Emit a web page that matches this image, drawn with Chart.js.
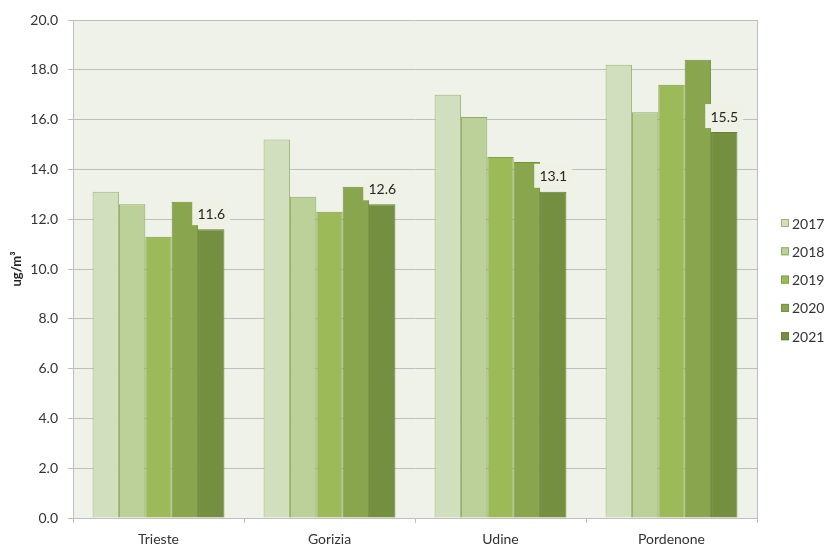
<!DOCTYPE html>
<html>
<head>
<meta charset="utf-8">
<script src="https://cdn.jsdelivr.net/npm/chart.js@4.4.1/dist/chart.umd.min.js"></script>
<style>
  html, body { margin: 0; padding: 0; background: #fff; }
  #wrap { width: 827px; height: 544px; position: relative; }
</style>
</head>
<body>
<div id="wrap"><canvas id="chart"></canvas></div>
<script>
// Stazioni e anni
const cities = ['Trieste', 'Gorizia', 'Udine', 'Pordenone'];
const years = ['2017', '2018', '2019', '2020', '2021'];

// Medie annue per anno (ug/m³)
const v2017 = [13.1, 15.2, 17.0, 18.2];
const v2018 = [12.6, 12.9, 16.1, 16.3];
const v2019 = [11.3, 12.3, 14.5, 17.4];
const v2020 = [12.7, 13.3, 14.3, 18.4];
const v2021 = [11.6, 12.6, 13.1, 15.5];

const yTicks = [0, 2, 4, 6, 8, 10, 12, 14, 16, 18, 20];

const fills = ['#d2dfbf', '#bcd09a', '#9cbb58', '#89a64e', '#748f3f'];
const borders = ['#9cb672', '#90ac62', '#82a047', '#75923c', '#66822f'];
const FONT = 'Lato, "Open Sans", sans-serif';

const series = [v2017, v2018, v2019, v2020, v2021];
const datasets = series.map((vals, i) => ({
  label: years[i],
  data: vals,
  backgroundColor: fills[i],
  borderColor: borders[i],
  borderWidth: 1,
  categoryPercentage: 0.771,
  barPercentage: 1.0
}));

// sfondo dell'area del grafico e bordo destro
const plotBg = {
  id: 'plotBg',
  beforeDraw(chart) {
    const { ctx, chartArea: a } = chart;
    ctx.save();
    ctx.fillStyle = '#eff2e9';
    ctx.fillRect(a.left, a.top, a.right - a.left, a.bottom - a.top);
    ctx.restore();
  },
  afterDatasetsDraw(chart) {
    const { ctx, chartArea: a } = chart;
    ctx.save();
    ctx.strokeStyle = '#bfbfbf';
    ctx.lineWidth = 1;
    ctx.beginPath();
    ctx.moveTo(a.right + 0.5, a.top);
    ctx.lineTo(a.right + 0.5, a.bottom);
    ctx.stroke();
    ctx.restore();
  }
};

// etichette valore sopra le barre del 2021
const lastLabels = {
  id: 'lastLabels',
  afterDatasetsDraw(chart) {
    const { ctx } = chart;
    const idx = years.length - 1;
    const meta = chart.getDatasetMeta(idx);
    ctx.save();
    ctx.font = '14px ' + FONT;
    ctx.textAlign = 'center';
    ctx.textBaseline = 'middle';
    meta.data.forEach((bar, j) => {
      const txt = series[idx][j].toFixed(1);
      const cy = bar.y - 16;
      ctx.fillStyle = '#eef1e3';
      ctx.fillRect(bar.x - 19, cy - 12, 38, 24);
      ctx.fillStyle = '#262626';
      ctx.fillText(txt, bar.x, cy + 1);
    });
    ctx.restore();
  }
};

// legenda a destra
const sideLegend = {
  id: 'sideLegend',
  afterDraw(chart) {
    const { ctx } = chart;
    ctx.save();
    ctx.font = '14px ' + FONT;
    ctx.textAlign = 'left';
    ctx.textBaseline = 'middle';
    years.forEach((y, i) => {
      const cy = 223 + i * 28.3;
      ctx.fillStyle = fills[i];
      ctx.fillRect(781, cy - 4, 8, 8);
      ctx.strokeStyle = borders[i];
      ctx.lineWidth = 1;
      ctx.strokeRect(781.5, cy - 3.5, 7, 7);
      ctx.fillStyle = '#333';
      ctx.fillText(y, 792, cy + 1);
    });
    ctx.restore();
  }
};

new Chart(document.getElementById('chart'), {
  type: 'bar',
  data: { labels: cities, datasets },
  options: {
    responsive: true,
    maintainAspectRatio: false,
    animation: false,
    layout: { padding: { top: 20, right: 70, bottom: 0, left: 0 } },
    plugins: {
      legend: { display: false },
      tooltip: { enabled: false }
    },
    scales: {
      x: {
        grid: {
          offset: true,
          drawOnChartArea: false,
          tickLength: 5,
          color: '#bfbfbf'
        },
        border: { color: '#bfbfbf' },
        ticks: {
          color: '#333',
          font: { family: FONT, size: 14 },
          padding: 8
        },
        afterFit(scale) { scale.height = 26; }
      },
      y: {
        min: 0,
        max: 20,
        afterBuildTicks(scale) { scale.ticks = yTicks.map(v => ({ value: v })); },
        grid: { color: '#bfbfbf', tickLength: 5 },
        border: { color: '#bfbfbf' },
        ticks: {
          color: '#333',
          font: { family: FONT, size: 14 },
          padding: 10,
          callback: v => v.toFixed(1)
        },
        title: {
          display: true,
          text: 'ug/m³',
          color: '#222',
          font: { family: FONT, size: 13, weight: 'bold' },
          padding: { top: 9, bottom: 0 }
        },
        afterFit(scale) { scale.width = 73; }
      }
    }
  },
  plugins: [plotBg, lastLabels, sideLegend]
});
</script>
</body>
</html>
